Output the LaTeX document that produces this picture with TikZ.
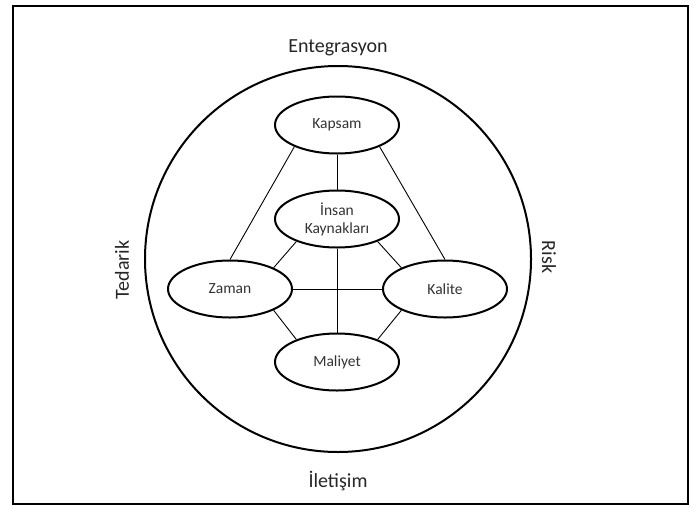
\documentclass[tikz,border=0pt]{standalone}
\usepackage{fontspec}
\setmainfont{Carlito}
\usetikzlibrary{shapes.geometric}
\begin{document}
\begin{tikzpicture}[x=1pt,y=-1pt,
  oval/.style={draw,line width=2pt,ellipse,minimum width=124pt,minimum height=57pt,inner sep=0pt,align=center,font=\fontsize{15.5}{18}\selectfont,text=black!80},
  link/.style={line width=0.9pt},
  lbl/.style={font=\fontsize{20}{24}\selectfont,text=black!85,inner sep=0pt}]
\fill[white] (0,0) rectangle (700,506);
\draw[line width=1.6pt] (13,6) rectangle (688,504);
\node[draw,circle,line width=2pt,minimum size=386pt,inner sep=0pt] (ring) at (338,259) {};
\node[oval] (kap) at (337,125) {Kapsam};
\node[oval] (ins) at (337,219) {İnsan\\Kaynakları};
\node[oval] (zam) at (230,289) {Zaman};
\node[oval] (kal) at (445,289) {Kalite};
\node[oval] (mal) at (337,362) {Maliyet};
\draw[link] (kap.south) -- (ins.north);
\draw[link] (kap.207) -- (zam.north);
\draw[link] (kap.333) -- (kal.north);
\draw[link] (ins.209) -- (zam.26);
\draw[link] (ins.331) -- (kal.154);
\draw[link] (zam.334) -- (mal.151);
\draw[link] (kal.206) -- (mal.29);
\draw[link] (ins.south) -- (mal.north);
\draw[link] (zam.east) -- (kal.west);
\node[lbl] (ent) at (338,48) {Entegrasyon};
\node[lbl] (ile) at (338,481) {İletişim};
\node[lbl,rotate=90] (ted) at (122,270) {Tedarik};
\node[lbl,rotate=-90] (risk) at (549,257) {Risk};
\end{tikzpicture}
\end{document}
